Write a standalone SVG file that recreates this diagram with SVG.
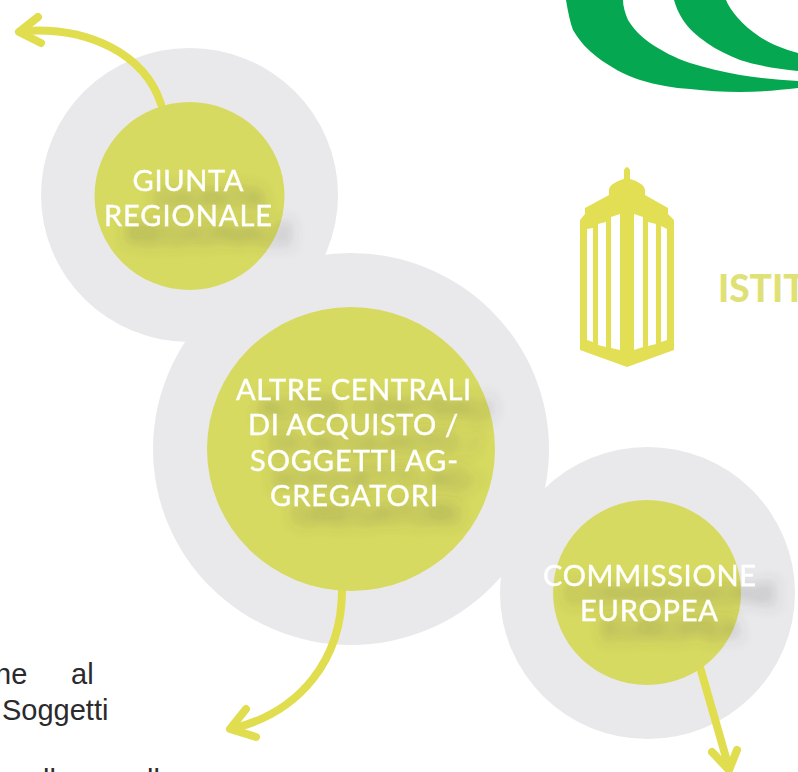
<svg xmlns="http://www.w3.org/2000/svg" width="798" height="772" viewBox="0 0 798 772">
<defs>
<style>
.halo{fill:#e9e9ec}
.disc{fill:#d7da60}
.lbl{font-family:"Lato","Noto Sans",sans-serif;font-size:29px;fill:#fff;stroke:#fff;stroke-width:.4;text-anchor:middle;filter:url(#shadow)}
.conn{fill:none;stroke:#e0dd4f;stroke-width:8;stroke-linecap:round;stroke-linejoin:round}
.body{font-family:"Liberation Sans",Arial,sans-serif;font-size:29px;fill:#2b2a2c}
</style>
<filter id="shadow" x="-30%" y="-120%" width="170%" height="380%"><feDropShadow dx="22" dy="18" stdDeviation="7" flood-color="#4a4a44" flood-opacity=".42"/></filter>
</defs>
<rect width="798" height="772" fill="#fff"/>
<g id="logo" fill="#05a850">
<path d="M566 0C568 12 570 22 573 30C580 42 588 50 597 57C610 67 625 75 640 80C657 85 673 88 690 89C707 91 723 92 740 92C760 92 780 90 798 88V81C778 80 759 78 740 75C723 72 706 68 690 63C675 58 662 51 650 43C640 36 633 28 628 20C625 13 623 6 623 0Z"/>
<path d="M674 0C676 7 679 14 683 20C689 29 697 36 707 43C717 50 728 55 740 60C759 66 778 69 798 71V53C783 49 771 44 760 37C751 31 743 24 737 17C732 11 728 5 726 0Z"/>
</g>
<g id="halos">
<ellipse class="halo" cx="189.500" cy="195" rx="148.500" ry="147"/>
<ellipse class="halo" cx="351" cy="449" rx="198" ry="196"/>
<ellipse class="halo" cx="647.500" cy="593" rx="147.500" ry="146"/>
</g>
<g id="connectors">
<path class="conn" d="M161 104C145 55 90 26 22 31"/>
<path class="conn" d="M38 17L19 32L41 43"/>
<path class="conn" d="M342 590C342 660 300 712 232 729"/>
<path class="conn" d="M246 709L230 729L256 737"/>
<path class="conn" d="M700 667L729 768"/>
<path class="conn" d="M712 752L729 770L737 750"/>
</g>
<g id="giunta">
<ellipse class="disc" cx="189.500" cy="196" rx="95" ry="94"/>
<text class="lbl" x="188" y="191" textLength="111">GIUNTA</text>
<text class="lbl" x="188" y="226" textLength="168">REGIONALE</text>
</g>
<g id="altre">
<ellipse class="disc" cx="351" cy="449" rx="144" ry="142"/>
<text class="lbl" x="353.500" y="400" textLength="235">ALTRE CENTRALI</text>
<text class="lbl" x="353" y="435" textLength="210">DI ACQUISTO /</text>
<text class="lbl" x="354" y="471" textLength="208">SOGGETTI AG-</text>
<text class="lbl" x="354" y="506" textLength="168">GREGATORI</text>
</g>
<g id="commissione">
<ellipse class="disc" cx="647" cy="592.500" rx="94" ry="92.500"/>
<text class="lbl" x="649.500" y="586" textLength="213">COMMISSIONE</text>
<text class="lbl" x="649" y="621" textLength="138">EUROPEA</text>
</g>
<g id="building">
<path fill="#e3df55" fill-rule="evenodd" d="M624 170Q627 164 630 170V179C637 181 645 185 645 190V195L668 208V214L674 220V350L627 367L580 350V220L585 214V208L609 195V190C609 185 617 181 624 179ZM587 229V340L593 342V228ZM598 224V345L606 347V222ZM611 217V348L620 350V214ZM634 214V350L643 347V217ZM648 222V346L656 344V224ZM661 226V342L667 340V229Z"/>
</g>
<g id="titles">
<text x="718" y="302" font-family="Lato,'Noto Sans',sans-serif" font-weight="900" font-size="37" fill="#dfe177">ISTIT</text>
</g>
<g id="body-text">
<text class="body" x="-5" y="684">ne</text>
<text class="body" x="71" y="684">al</text>
<text class="body" x="2" y="720">Soggetti</text>
<text class="body" x="43" y="790">ll</text>
<text class="body" x="147" y="790">ll</text>
</g>
</svg>
